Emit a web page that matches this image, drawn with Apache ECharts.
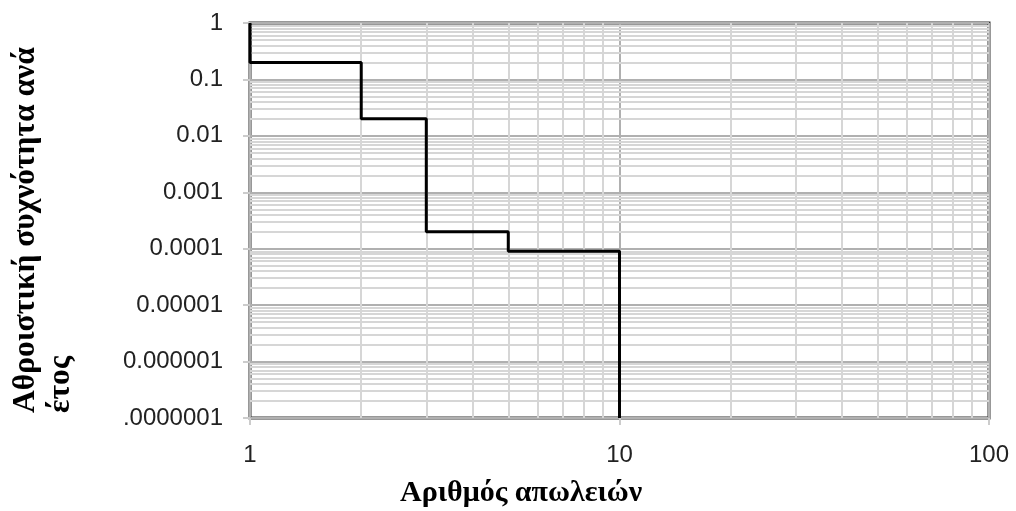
<!DOCTYPE html>
<html>
<head lang="el">
 <meta charset="UTF-8">
 <title>Αθροιστική συχνότητα</title>
 <script src="https://cdn.jsdelivr.net/npm/echarts@6/dist/echarts.min.js" type="text/javascript" charset="utf-8"></script>
 <style>
  html, body { margin: 0; padding: 0; background: #fff; }
  #div1 { width: 1016px; height: 511px; }
 </style>
</head>
<body>
<div id="div1"></div>
<script type="text/javascript">
// step points (number of losses, cumulative frequency per year)
var losses = [1, 2, 3, 5, 10, 10];
var freqs = [1, 0.2, 0.02, 0.0002, 0.00009, 0.0000001];

var xTickLabels = ['1', '10', '100'];
var yTickLabels = ['.0000001', '0.000001', '0.00001', '0.0001', '0.001', '0.01', '0.1', '1'];

var xTitle = 'Αριθμός απωλειών';
var yTitle = 'Αθροιστική συχνότητα ανά\nέτος';

// minor log gridlines 2..9 in every decade
function minorValues(e0, e1) {
    var out = [];
    for (var e = e0; e < e1; e++) {
        for (var k = 2; k <= 9; k++) {
            out.push(k * Math.pow(10, e));
        }
    }
    return out;
}
var minorX = minorValues(0, 2).map(function (v) { return { xAxis: v }; });
var minorY = minorValues(-7, 0).map(function (v) { return { yAxis: v }; });

var stepData = losses.map(function (x, i) { return [x, freqs[i]]; });

var myChart = echarts.init(document.getElementById('div1'));

var labelFont = 'Liberation Sans, Arial';

var option = {
    animation: false,
    grid: {
        left: 250, top: 23, right: 27, bottom: 93,
        show: true, borderColor: '#333', borderWidth: 3, backgroundColor: 'transparent'
    },
    xAxis: {
        type: 'log', logBase: 10, min: 1, max: 100,
        axisLine: { show: false },
        axisTick: { show: true, length: 7, lineStyle: { color: '#ccc', width: 2 } },
        axisLabel: {
            margin: 25, fontSize: 24, color: '#222', fontFamily: labelFont,
            formatter: function (v) { return xTickLabels[Math.round(Math.log10(v))]; }
        },
        splitLine: { show: true, lineStyle: { color: '#b0b0b0', width: 2 } }
    },
    yAxis: {
        type: 'log', logBase: 10, min: 0.0000001, max: 1,
        axisLine: { show: false },
        axisTick: { show: true, length: 7, lineStyle: { color: '#ccc', width: 2 } },
        axisLabel: {
            margin: 27, fontSize: 24, color: '#222', fontFamily: labelFont,
            formatter: function (v) { return yTickLabels[Math.round(Math.log10(v)) + 7]; }
        },
        splitLine: { show: true, lineStyle: { color: '#b0b0b0', width: 2 } }
    },
    graphic: [
        {
            type: 'text', x: 400, y: 493,
            style: {
                text: xTitle, fill: '#000', align: 'left', verticalAlign: 'middle',
                font: 'bold 30px "Liberation Serif", "Times New Roman", serif'
            }
        },
        {
            type: 'text', x: 43, y: 413, rotation: Math.PI / 2,
            style: {
                text: yTitle, fill: '#000', align: 'left', verticalAlign: 'middle', lineHeight: 35,
                font: 'bold 31.5px "Liberation Serif", "Times New Roman", serif'
            }
        }
    ],
    series: [
        {
            name: 'grid-minor', type: 'line', data: [], z: 1, silent: true,
            markLine: {
                silent: true, symbol: 'none', precision: 12, label: { show: false },
                lineStyle: { color: '#d6d6d6', width: 2, type: 'solid' },
                data: minorX.concat(minorY)
            }
        },
        {
            name: 'freq', type: 'line', step: 'start', z: 5,
            data: stepData, showSymbol: false, symbol: 'none',
            lineStyle: { color: '#000', width: 3 }
        }
    ]
};

myChart.setOption(option);
</script>
</body>
</html>
